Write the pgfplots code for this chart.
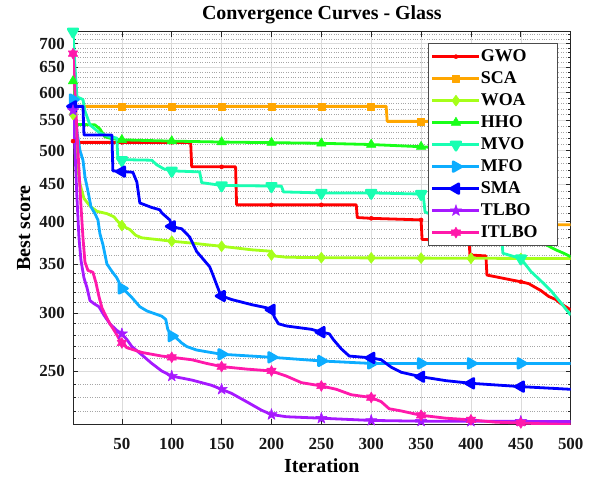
\documentclass[border=0pt]{standalone}
\usepackage{fontspec}
\setmainfont{Liberation Serif}
\usepackage{pgfplots}
\pgfplotsset{compat=1.18}
\usetikzlibrary{plotmarks}

\definecolor{cGWO}{rgb}{1,0,0}
\definecolor{cSCA}{rgb}{1,0.65,0}
\definecolor{cWOA}{rgb}{0.65,1,0.1}
\definecolor{cHHO}{rgb}{0.1,1,0.1}
\definecolor{cMVO}{rgb}{0.1,1,0.7}
\definecolor{cMFO}{rgb}{0.05,0.68,1}
\definecolor{cSMA}{rgb}{0,0,1}
\definecolor{cTLBO}{rgb}{0.65,0.1,1}
\definecolor{cITLBO}{rgb}{1,0.1,0.67}
\definecolor{axgray}{rgb}{0.15,0.15,0.15}

\pgfdeclareplotmark{pentagram}{%
  \pgfpathmoveto{\pgfpointpolar{90}{\pgfplotmarksize}}%
  \pgfpathlineto{\pgfpointpolar{126}{0.382\pgfplotmarksize}}%
  \pgfpathlineto{\pgfpointpolar{162}{\pgfplotmarksize}}%
  \pgfpathlineto{\pgfpointpolar{198}{0.382\pgfplotmarksize}}%
  \pgfpathlineto{\pgfpointpolar{234}{\pgfplotmarksize}}%
  \pgfpathlineto{\pgfpointpolar{270}{0.382\pgfplotmarksize}}%
  \pgfpathlineto{\pgfpointpolar{306}{\pgfplotmarksize}}%
  \pgfpathlineto{\pgfpointpolar{342}{0.382\pgfplotmarksize}}%
  \pgfpathlineto{\pgfpointpolar{18}{\pgfplotmarksize}}%
  \pgfpathlineto{\pgfpointpolar{54}{0.382\pgfplotmarksize}}%
  \pgfpathclose
  \pgfusepathqfillstroke
}
\pgfdeclareplotmark{hexagram}{%
  \pgfpathmoveto{\pgfpointpolar{90}{\pgfplotmarksize}}%
  \pgfpathlineto{\pgfpointpolar{120}{0.577\pgfplotmarksize}}%
  \pgfpathlineto{\pgfpointpolar{150}{\pgfplotmarksize}}%
  \pgfpathlineto{\pgfpointpolar{180}{0.577\pgfplotmarksize}}%
  \pgfpathlineto{\pgfpointpolar{210}{\pgfplotmarksize}}%
  \pgfpathlineto{\pgfpointpolar{240}{0.577\pgfplotmarksize}}%
  \pgfpathlineto{\pgfpointpolar{270}{\pgfplotmarksize}}%
  \pgfpathlineto{\pgfpointpolar{300}{0.577\pgfplotmarksize}}%
  \pgfpathlineto{\pgfpointpolar{330}{\pgfplotmarksize}}%
  \pgfpathlineto{\pgfpointpolar{0}{0.577\pgfplotmarksize}}%
  \pgfpathlineto{\pgfpointpolar{30}{\pgfplotmarksize}}%
  \pgfpathlineto{\pgfpointpolar{60}{0.577\pgfplotmarksize}}%
  \pgfpathclose
  \pgfusepathqfillstroke
}

\pgfplotsset{
  ser/.style={color=#1, line width=2.8bp, line join=round, mark options={solid, fill=#1, line width=0.5bp}},
}
\newcommand{\lt}[1]{\makebox[74bp][l]{#1}}

\begin{document}
\begin{tikzpicture}
\path[use as bounding box] (0,0) rectangle (593bp,477bp);
\begin{axis}[
  at={(73bp,52.5bp)}, anchor=south west,
  width=497.7bp, height=392.8bp, scale only axis,
  ymode=log,
  xmin=1, xmax=500, ymin=211.3, ymax=726.6,
  xtick={50,100,...,500},
  ytick={250,300,350,400,450,500,550,600,650,700},
  yticklabels={250,300,350,400,450,500,550,600,650,700},
  minor ytick={220,230,240,260,270,280,290,310,320,330,340,360,370,380,390,410,420,430,440,460,470,480,490,510,520,530,540,560,570,580,590,610,620,630,640,660,670,680,690,710,720},
  /pgf/number format/assume math mode=true,
  grid=both,
  major grid style={color=black!14, line width=0.6bp},
  minor grid style={color=black!35, dotted, line width=0.6bp},
  axis line style={color=axgray, line width=0.7bp},
  every tick/.style={color=axgray, line width=0.7bp},
  major tick length=5bp, minor tick length=2.5bp,
  tick align=inside,
  ticklabel style={font=\fontsize{17}{17}\selectfont\bfseries, text=axgray!60!black, inner sep=0pt},
  yticklabel style={xshift=-8bp},
  xticklabel style={yshift=-13.5bp},
  title={Convergence Curves - Glass},
  title style={font=\fontsize{20}{20}\selectfont\bfseries, at={(axis description cs:0.5,1.017)}, anchor=base, inner sep=0pt},
  xlabel={Iteration},
  xlabel style={font=\fontsize{20}{20}\selectfont\bfseries, at={(axis description cs:0.5,-0.1235)}, anchor=base, inner sep=0pt},
  ylabel={Best score},
  ylabel style={font=\fontsize{20}{20}\selectfont\bfseries, at={(axis description cs:-0.0864,0.5)}, anchor=base, inner sep=0pt},
  legend style={at={(axis description cs:0.975,0.9705)}, anchor=north east,
    draw=black!70, line width=0.8bp, fill=white,
    font=\fontsize{18}{18}\selectfont\bfseries,
    inner xsep=3bp, inner ysep=4.5bp, row sep=5bp,
    nodes={inner sep=0pt, text height=13bp, text depth=4bp}},
  legend cell align=left,
  legend image code/.code={\draw[mark repeat=2, mark phase=2, #1] plot coordinates {(0bp,0bp) (23.5bp,0bp) (47bp,0bp)};\hspace{3bp}},
]
\addlegendimage{ser=cGWO, mark=*, mark size=2bp}
\addlegendimage{ser=cSCA, mark=square*, mark size=3.5bp}
\addlegendimage{ser=cWOA, mark=diamond*, mark size=5.5bp}
\addlegendimage{ser=cHHO, mark=triangle*, mark size=5.5bp}
\addlegendimage{ser=cMVO, mark=triangle*, mark size=5.5bp, mark options={rotate=180}}
\addlegendimage{ser=cMFO, mark=triangle*, mark size=5.5bp, mark options={rotate=-90}}
\addlegendimage{ser=cSMA, mark=triangle*, mark size=5.5bp, mark options={rotate=90}}
\addlegendimage{ser=cTLBO, mark=pentagram, mark size=6bp}
\addlegendimage{ser=cITLBO, mark=hexagram, mark size=5.5bp}
\legend{\lt{GWO},\lt{SCA},\lt{WOA},\lt{HHO},\lt{MVO},\lt{MFO},\lt{SMA},\lt{TLBO},\lt{ITLBO}}

% GWO
\addplot[ser=cGWO, forget plot] coordinates {(1,515) (2,513) (119,513) (120,475) (164,475) (165,421.5) (285,421.5) (286,405) (300,404) (350,402) (351,378) (398,377) (399,360) (415,359) (416,338) (440,333) (450,331) (458,329) (463,326) (470,322) (478,316) (485,313) (490,309) (495,306) (500,303)};
\addplot[ser=cGWO, only marks, mark=*, mark size=2bp, forget plot] coordinates {(1,515) (50,513) (100,513) (150,475) (200,421.5) (250,421.5) (300,404) (350,402) (400,360) (450,331)};
% SCA
\addplot[ser=cSCA, forget plot] coordinates {(1,574.5) (315,574.5) (316,548) (420,548) (421,396) (500,396)};
\addplot[ser=cSCA, only marks, mark=square*, mark size=3.5bp, forget plot] coordinates {(1,574.5) (50,574.5) (100,574.5) (150,574.5) (200,574.5) (250,574.5) (300,574.5) (350,548) (400,548) (450,396)};
% WOA
\addplot[ser=cWOA, forget plot] coordinates {(1,560) (3,520) (5,480) (8,450) (12,430) (18,420) (25,413) (35,410) (42,406) (46,400) (50,395) (58,390) (64,383) (70,380) (85,378) (100,376) (118,374) (150,370) (180,366) (198,364.5) (202,359) (215,357.5) (250,357) (350,356.5) (500,356)};
\addplot[ser=cWOA, only marks, mark=diamond*, mark size=5.5bp, forget plot] coordinates {(1,560) (50,395) (100,376) (150,370) (200,360) (250,357) (300,356.8) (350,356.5) (400,356.3) (450,356.1)};
% HHO
\addplot[ser=cHHO, forget plot] coordinates {(1,622) (2,543) (23,542) (28,535) (33,522) (40,519) (50,517) (100,515) (150,513.5) (200,512.5) (250,511.5) (300,509.5) (350,506) (380,503) (400,500) (420,492) (440,470) (455,420) (468,376) (475,372) (485,366) (493,362) (500,358)};
\addplot[ser=cHHO, only marks, mark=triangle*, mark size=5.5bp, forget plot] coordinates {(1,622) (50,517) (100,515) (150,513.5) (200,512.5) (250,511.5) (300,509.5) (350,506) (400,500) (450,435)};
% MVO
\addplot[ser=cMVO, forget plot] coordinates {(1,726.6) (3,650) (5,592) (11,587) (13,566) (18,542) (28,528) (38,522) (45,520) (46,486) (80,485) (85,478) (92,472) (100,469) (128,467.5) (130,452) (150,448) (210,447) (212,439) (250,437.6) (300,437.6) (352,436) (354,412) (380,400) (410,390) (431,377) (432,362) (450,356) (460,342) (470,332) (480,322) (490,310) (500,298)};
\addplot[ser=cMVO, only marks, mark=triangle*, mark size=5.5bp, mark options={rotate=180}, forget plot] coordinates {(1,726.6) (50,485) (100,469) (150,448) (200,447) (250,437.6) (300,437.6) (350,436) (400,394) (450,356)};
% MFO
\addplot[ser=cMFO, forget plot] coordinates {(1,587) (3,560) (5,530) (8,500) (11,485) (13,460) (16,440) (19,419) (23,410) (26,402) (28,385) (31,372) (35,350) (40,342) (45,335) (50,324) (55,320) (60,315) (68,306) (75,302) (90,297) (94,294) (96,285) (100,279) (105,277) (110,273) (115,270) (125,267) (150,263.5) (200,261) (250,258) (300,256) (500,256)};
\addplot[ser=cMFO, only marks, mark=triangle*, mark size=5.5bp, mark options={rotate=-90}, forget plot] coordinates {(1,587) (50,324) (100,279) (150,263.5) (200,261) (250,258) (300,256) (350,256) (400,256) (450,256)};
% SMA
\addplot[ser=cSMA, forget plot] coordinates {(1,574.5) (11,574.5) (12,525) (40,525) (41,469) (50,468) (61,467) (65,453) (68,424) (80,418) (88,415) (90,411) (98,402) (100,394) (106,392) (110,391) (118,381) (125,364) (138,347) (141,339) (148,320) (150,316.5) (160,313) (180,308) (195,305) (200,303) (203,296) (207,290) (215,288) (240,285) (250,282.5) (258,281) (262,276) (270,268) (278,262) (300,260.5) (310,259) (320,253) (330,249) (350,245.5) (375,242.5) (400,240.5) (450,238) (500,236)};
\addplot[ser=cSMA, only marks, mark=triangle*, mark size=5.5bp, mark options={rotate=90}, forget plot] coordinates {(1,574.5) (50,468) (100,394) (150,316.5) (200,303) (250,282.5) (300,260.5) (350,245.5) (400,240.5) (450,238)};
% TLBO
\addplot[ser=cTLBO, forget plot] coordinates {(1,567) (3,500) (5,430) (7,380) (9,354) (12,335) (15,325) (18,312) (22,309) (27,306) (32,298) (38,290) (45,284) (50,281) (55,276) (60,270) (70,263) (80,256) (90,250) (100,246) (120,243) (140,239) (150,236) (160,233) (175,227) (190,221) (200,218) (215,216.5) (250,215.5) (300,214) (350,213.5) (500,213.3)};
\addplot[ser=cTLBO, only marks, mark=pentagram, mark size=6bp, forget plot] coordinates {(1,567) (50,281) (100,246) (150,236) (200,218) (250,215.5) (300,214) (350,213.5) (400,213.4) (450,213.4)};
% ITLBO
\addplot[ser=cITLBO, forget plot] coordinates {(1,678) (3,600) (5,530) (7,470) (9,420) (11,380) (13,352) (16,343) (21,341) (24,330) (27,316) (30,305) (34,297) (38,290) (43,283) (47,277) (50,273) (55,269) (70,265) (90,262) (100,261) (120,259) (135,256) (150,253.5) (175,251.5) (200,250) (215,246) (230,241) (250,238.5) (265,236) (280,232) (300,230) (310,227) (318,222) (330,220.5) (350,217.5) (375,215.5) (400,214.4) (425,212.8) (450,212.3) (475,211.7) (500,211.3)};
\addplot[ser=cITLBO, only marks, mark=hexagram, mark size=5.5bp, forget plot] coordinates {(1,678) (50,273) (100,261) (150,253.5) (200,250) (250,238.5) (300,230) (350,217.5) (400,214.4) (450,212.3)};
\end{axis}
\end{tikzpicture}
\end{document}
